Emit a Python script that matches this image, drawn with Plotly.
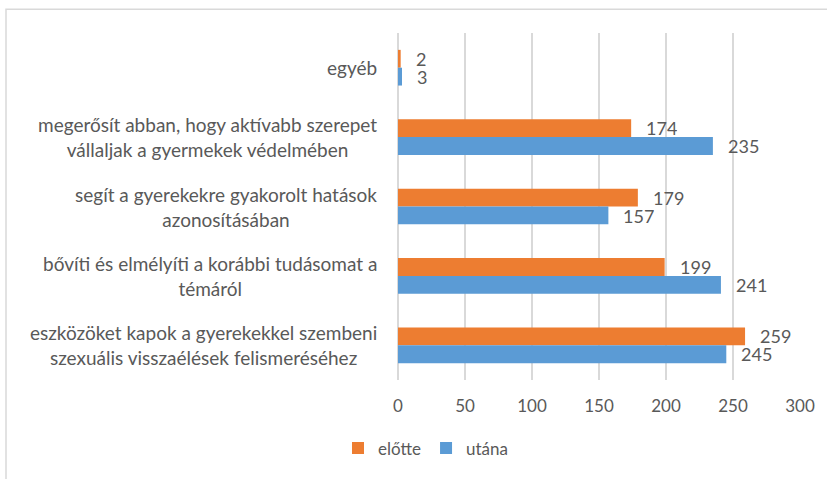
import plotly.graph_objects as go

categories = [
    "egyéb",
    "megerősít abban, hogy aktívabb szerepet<br>vállaljak a gyermekek védelmében",
    "segít a gyerekekre gyakorolt hatások<br>azonosításában",
    "bővíti és elmélyíti a korábbi tudásomat a<br>témáról",
    "eszközöket kapok a gyerekekkel szembeni<br>szexuális visszaélések felismeréséhez",
]
elotte = [2, 174, 179, 199, 259]
utana = [3, 235, 157, 241, 245]
series_names = ["előtte", "utána"]
colors = ["#ED7D31", "#5B9BD5"]
x_ticks = [0, 50, 100, 150, 200, 250, 300]

TEXT = "#595959"
FONT = "Lato"

# plot area in pixels
L, R, T, B = 398, 800, 33, 383
W, H = 827, 479

def px_x(px):
    return (px - L) / (R - L)

def px_y(py):
    return (B - py) / (B - T)

fig = go.Figure()
for name, vals, col in zip(series_names, [elotte, utana], colors):
    fig.add_trace(go.Bar(
        y=categories, x=vals, name=name, orientation="h",
        marker=dict(color=col, line=dict(width=0)),
    ))

annotations = []
# category labels (centered lines, right-aligned block)
for c in categories:
    annotations.append(dict(
        x=px_x(379), xref="paper", y=c, yref="y", text=c,
        xanchor="right", yanchor="middle", align="center", showarrow=False,
        font=dict(family=FONT, size=19, color=TEXT),
    ))
# value labels
for vals, ysh in zip([elotte, utana], [9, -9]):
    for c, v in zip(categories, vals):
        annotations.append(dict(
            x=v, xref="x", y=c, yref="y", text=str(v), yshift=ysh, xshift=13,
            xanchor="left", yanchor="middle", showarrow=False, height=16,
            font=dict(family=FONT, size=18, color=TEXT),
        ))

fig.update_layout(
    width=W, height=H,
    margin=dict(l=L, r=W - R, t=T, b=H - B, pad=0),
    paper_bgcolor="white", plot_bgcolor="white",
    barmode="group", bargap=0.486, bargroupgap=0,
    font=dict(family=FONT, size=17, color=TEXT),
    showlegend=True,
    legend=dict(
        orientation="h", x=px_x(426), xanchor="center", y=px_y(452), yanchor="middle",
        font=dict(family=FONT, size=17, color=TEXT), itemwidth=30,
        bgcolor="rgba(0,0,0,0)",
    ),
    xaxis=dict(
        range=[0, 300], tickvals=x_ticks, showgrid=True, gridcolor="#D9D9D9", gridwidth=1.5,
        zeroline=True, zerolinecolor="#D9D9D9", zerolinewidth=1.5, showline=False,
        ticks="", ticklabelstandoff=14, tickfont=dict(family=FONT, size=17, color=TEXT),
        fixedrange=True,
    ),
    yaxis=dict(
        autorange="reversed", showticklabels=False, showgrid=False, zeroline=False,
        ticks="", showline=False, fixedrange=True,
    ),
    annotations=annotations,
    shapes=[dict(
        type="rect", xref="paper", yref="paper",
        x0=px_x(6), x1=px_x(W + 20), y0=px_y(H + 20), y1=px_y(9),
        line=dict(color="#D9D9D9", width=1.5), fillcolor="rgba(0,0,0,0)", layer="below",
    )],
)

fig.write_html(
    "out.html",
    config={"displayModeBar": False},
    post_script="document.body.style.margin='0';document.body.style.overflow='hidden';",
)
